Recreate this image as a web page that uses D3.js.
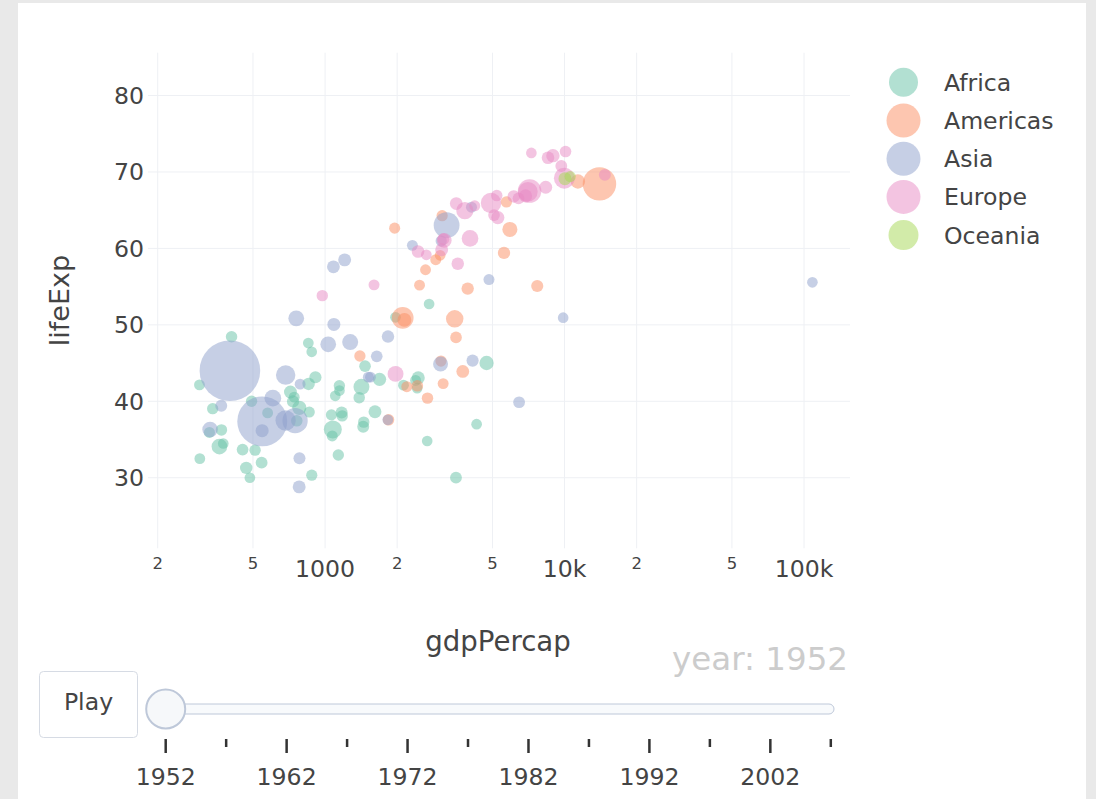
<!DOCTYPE html>
<html><head><meta charset="utf-8">
<script src="https://cdn.jsdelivr.net/npm/d3@7"></script>
<style>
html,body{margin:0;padding:0;background:#e9e9e9;width:1096px;height:799px;overflow:hidden;}
#card{position:absolute;left:18px;top:3px;width:1068px;height:800px;background:#fff;}
svg{position:absolute;left:0;top:0;}
text{font-family:"DejaVu Sans",sans-serif;fill:#444;}
</style></head><body><div id="card"></div><svg id="chart" width="1096" height="799"></svg>
<script>
// ---------- DATA (gapminder, year 1952) ----------
const continents = ["Africa","Americas","Asia","Europe","Oceania"];
const continentColors = ["#66c2a5","#fc8d62","#8da0cb","#e78ac3","#a6d854"];
const legendSizes = [14.5,17,17,17,15];

const africaCountries = ["Algeria","Angola","Benin","Botswana","Burkina Faso","Burundi","Cameroon","Central African Republic","Chad","Comoros","Congo, Dem. Rep.","Congo, Rep.","Cote d'Ivoire","Djibouti","Egypt","Equatorial Guinea","Eritrea","Ethiopia","Gabon","Gambia","Ghana","Guinea","Guinea-Bissau","Kenya","Lesotho","Liberia","Libya","Madagascar","Malawi","Mali","Mauritania","Mauritius","Morocco","Mozambique","Namibia","Niger","Nigeria","Reunion","Rwanda","Sao Tome and Principe","Senegal","Sierra Leone","Somalia","South Africa","Sudan","Swaziland","Tanzania","Togo","Tunisia","Uganda","Zambia","Zimbabwe"];
const africaGdp = [2449.008,3520.610,1062.752,851.241,543.255,339.296,1172.668,1071.311,1178.666,1102.991,780.542,2125.622,1388.595,2669.530,1418.822,375.643,328.941,362.146,4293.476,485.231,911.299,510.196,299.850,853.541,298.846,575.572,2387.548,1443.012,369.165,452.337,743.116,1967.956,1688.204,468.526,2423.780,761.879,1077.282,2718.885,493.324,879.584,1450.357,879.788,1135.750,4725.296,1615.991,1148.377,716.650,859.809,1468.476,734.753,1147.389,406.884];
const africaLife = [43.077,30.015,38.223,47.622,31.975,39.031,38.523,35.463,38.092,40.715,39.143,42.111,40.477,34.812,41.893,34.482,35.928,34.078,37.003,30.000,43.149,33.609,32.500,42.270,42.138,38.480,42.723,36.681,36.256,33.685,40.543,50.986,42.873,31.286,41.725,37.444,36.324,52.724,40.000,46.471,37.278,30.331,32.978,45.009,38.635,41.407,41.215,38.596,44.600,39.978,42.038,48.451];
const africaPop = [9279525,4232095,1738315,442308,4469979,2445618,5009067,1291695,2682462,153936,14100005,854885,2977019,63149,22223309,216964,1438760,20860941,420702,284320,5581001,2664249,580653,6464046,748747,863308,1019729,4762912,2917802,3838168,1022556,516556,9939217,6446316,485831,3379468,33119096,257700,2534927,60011,2755589,2143249,2526994,14264935,8504667,290243,8322925,1219113,3647735,5824797,2672000,3080907];

const americasCountries = ["Argentina","Bolivia","Brazil","Canada","Chile","Colombia","Costa Rica","Cuba","Dominican Republic","Ecuador","El Salvador","Guatemala","Haiti","Honduras","Jamaica","Mexico","Nicaragua","Panama","Paraguay","Peru","Puerto Rico","Trinidad and Tobago","United States","Uruguay","Venezuela"];
const americasGdp = [5911.315,2677.326,2108.944,11367.161,3939.979,2144.115,2627.009,5586.539,1397.717,3522.111,3048.303,2428.238,1840.367,2194.926,2898.531,3478.126,3112.364,2480.380,1952.309,3758.523,3081.960,3023.272,13990.482,5716.767,7689.800];
const americasLife = [62.485,40.414,50.917,68.750,54.745,50.643,57.206,59.421,45.928,48.357,45.262,42.023,37.579,41.912,58.530,50.789,42.314,55.191,62.649,43.902,64.280,59.100,68.440,66.071,55.088];
const americasPop = [17876956,2883315,56602560,14785584,6377619,12350771,926317,6007797,2491346,3548753,2042865,3146381,3201488,1517453,1426095,30144317,1165790,940080,1555876,8025700,2227000,662850,157553000,2252965,5439568];

const asiaCountries = ["Afghanistan","Bahrain","Bangladesh","Cambodia","China","Hong Kong, China","India","Indonesia","Iran","Iraq","Israel","Japan","Jordan","Korea, Dem. Rep.","Korea, Rep.","Kuwait","Lebanon","Malaysia","Mongolia","Myanmar","Nepal","Oman","Pakistan","Philippines","Saudi Arabia","Singapore","Sri Lanka","Syria","Taiwan","Thailand","Vietnam","West Bank and Gaza","Yemen, Rep."];
const asiaGdp = [779.445,9867.085,684.244,368.469,400.449,3054.421,546.566,749.682,3035.326,4129.766,4086.522,3216.956,1546.908,1088.278,1030.592,108382.353,4834.804,1831.133,786.567,331.000,545.866,1828.230,684.597,1272.880,6459.555,2315.138,1083.532,1643.486,1206.947,757.797,605.067,1515.592,781.718];
const asiaLife = [28.801,50.939,37.484,39.417,44.000,60.960,37.373,37.468,44.869,45.320,65.390,63.030,43.158,50.056,47.453,55.565,55.928,48.463,42.244,36.319,36.157,37.578,43.436,47.752,39.875,60.396,57.593,45.883,58.500,50.848,40.412,43.160,32.548];
const asiaPop = [8425333,120447,46886859,4693836,556263527,2125900,372000000,82052000,17272000,5441766,1620914,86459025,607914,8865488,20947571,160000,1439529,6748378,800663,20092996,9182536,507833,41346560,22438691,4005677,1127000,7982342,3661549,8550362,21289402,26246839,1030585,4963829];

const europeCountries = ["Albania","Austria","Belgium","Bosnia and Herzegovina","Bulgaria","Croatia","Czech Republic","Denmark","Finland","France","Germany","Greece","Hungary","Iceland","Ireland","Italy","Montenegro","Netherlands","Norway","Poland","Portugal","Romania","Serbia","Slovak Republic","Slovenia","Spain","Sweden","Switzerland","Turkey","United Kingdom"];
const europeGdp = [1601.056,6137.076,8343.105,973.533,2444.287,3119.237,6876.140,9692.385,6424.519,7029.809,7144.114,3530.690,5263.674,7267.688,5210.280,4931.404,2647.586,8941.572,10095.422,4029.330,3068.320,3144.613,3581.459,5074.659,4215.042,3834.035,8527.845,14734.233,1969.101,9979.508];
const europeLife = [55.230,66.800,68.000,53.820,59.600,61.210,66.870,70.780,66.550,67.410,67.500,65.860,64.030,72.490,66.910,65.940,59.164,72.130,72.670,61.310,59.820,61.050,57.996,64.360,65.570,64.940,71.860,69.620,43.585,69.180];
const europePop = [1282697,6927772,8730405,2791000,7274900,3882229,9125183,4334000,4090500,42459667,69145952,7733250,9504000,147962,2952156,47666000,413834,10381988,3327728,25730551,8526050,16630000,6860147,3558137,1489518,28549870,7124673,4815000,22235677,50430000];

const oceaniaCountries = ["Australia","New Zealand"];
const oceaniaGdp = [10039.596,10556.576];
const oceaniaLife = [69.120,69.390];
const oceaniaPop = [8691212,1994794];

const xTickValues = [200,500,1000,2000,5000,10000,20000,50000,100000];
const xTickLabels = ["2","5","1000","2","5","10k","2","5","100k"];
const yTickValues = [30,40,50,60,70,80];
const sliderYears = [1952,1957,1962,1967,1972,1977,1982,1987,1992,1997,2002,2007];
const currentYear = 1952;

// ---------- BUILD ----------
const groups = [
  [africaCountries, africaGdp, africaLife, africaPop],
  [americasCountries, americasGdp, americasLife, americasPop],
  [asiaCountries, asiaGdp, asiaLife, asiaPop],
  [europeCountries, europeGdp, europeLife, europePop],
  [oceaniaCountries, oceaniaGdp, oceaniaLife, oceaniaPop]
];
const rows = [];
groups.forEach((g, ci) => g[0].forEach((name, i) => rows.push({name, c: ci, gdp: g[1][i], life: g[2][i], pop: g[3][i]})));

const svg = d3.select("#chart");
const L = 148, R = 850, T = 52.7, B = 548.3;
const x = d3.scaleLog().domain([182.2, 155600]).range([L, R]);
const y = d3.scaleLinear().domain([20.77, 85.6]).range([B, T]);
const maxPop = d3.max(rows, d => d.pop);
const area = d3.scaleLinear().domain([0, maxPop]).range([28.1, 918]);
const rad = p => Math.sqrt(area(p));

// grid
const grid = svg.append("g");
grid.selectAll("line.v").data(xTickValues).join("line")
  .attr("x1", d => x(d)).attr("x2", d => x(d)).attr("y1", T).attr("y2", B)
  .attr("stroke", "#eef0f4").attr("stroke-width", 1);
grid.selectAll("line.h").data(yTickValues).join("line")
  .attr("x1", L).attr("x2", R).attr("y1", d => y(d)).attr("y2", d => y(d))
  .attr("stroke", "#eef0f4").attr("stroke-width", 1);

// x tick labels
svg.append("g").selectAll("text").data(xTickValues).join("text")
  .attr("x", d => x(d))
  .attr("y", (d, i) => xTickLabels[i].length > 1 ? 577 : 569)
  .attr("text-anchor", "middle")
  .style("font-size", (d, i) => xTickLabels[i].length > 1 ? "23.6px" : "16.5px")
  .text((d, i) => xTickLabels[i]);

// y tick labels
svg.append("g").selectAll("text").data(yTickValues).join("text")
  .attr("x", 144).attr("y", d => y(d)).attr("dy", "0.36em")
  .attr("text-anchor", "end").style("font-size", "23.6px")
  .text(d => d);

// axis titles
svg.append("text").attr("x", (L + R) / 2 - 1).attr("y", 651).attr("text-anchor", "middle")
  .style("font-size", "27.6px").text("gdpPercap");
svg.append("text").attr("transform", `translate(69,${(T + B) / 2}) rotate(-90)`)
  .attr("text-anchor", "middle").style("font-size", "27px").text("lifeExp");

// bubbles
svg.append("g").selectAll("circle").data(rows).join("circle")
  .attr("cx", d => x(d.gdp)).attr("cy", d => y(d.life)).attr("r", d => rad(d.pop))
  .attr("fill", d => continentColors[d.c]).attr("fill-opacity", 0.5);

// legend
const lg = svg.append("g").selectAll("g").data(continents).join("g")
  .attr("transform", (d, i) => `translate(903.5,${82.3 + i * 38.2})`);
lg.append("circle").attr("r", (d, i) => legendSizes[i])
  .attr("fill", (d, i) => continentColors[i]).attr("fill-opacity", 0.5);
lg.append("text").attr("x", 40.5).attr("dy", "0.36em").style("font-size", "23.6px").text(d => d);

// year label
svg.append("text").attr("x", 848).attr("y", 670).attr("text-anchor", "end")
  .style("font-size", "32.5px").style("fill", "#cccccc").text("year: " + currentYear);

// play button
svg.append("rect").attr("x", 39.5).attr("y", 671.5).attr("width", 98).attr("height", 66).attr("rx", 4)
  .attr("fill", "#fff").attr("stroke", "#d6dbe4");
svg.append("text").attr("x", 88.5).attr("y", 702).attr("dy", "0.36em").attr("text-anchor", "middle")
  .style("font-size", "23.6px").text("Play");

// slider
const sx = d3.scaleLinear().domain([1952, 2007]).range([165.7, 830.8]);
svg.append("rect").attr("x", 148).attr("y", 704).attr("width", 686).attr("height", 10).attr("rx", 5)
  .attr("fill", "#f8fafc").attr("stroke", "#bec8d9");
svg.append("g").selectAll("line").data(sliderYears).join("line")
  .attr("x1", d => sx(d)).attr("x2", d => sx(d)).attr("y1", 739)
  .attr("y2", (d, i) => i % 2 === 0 ? 753 : 747)
  .attr("stroke", "#333").attr("stroke-width", 2.5);
svg.append("g").selectAll("text").data(sliderYears.filter((d, i) => i % 2 === 0)).join("text")
  .attr("x", d => sx(d)).attr("y", 785).attr("text-anchor", "middle").style("font-size", "23.6px")
  .text(d => d);
svg.append("circle").attr("cx", sx(currentYear)).attr("cy", 709).attr("r", 19.5)
  .attr("fill", "#f6f8fa").attr("stroke", "#bec8d9").attr("stroke-width", 2);
</script></body></html>
